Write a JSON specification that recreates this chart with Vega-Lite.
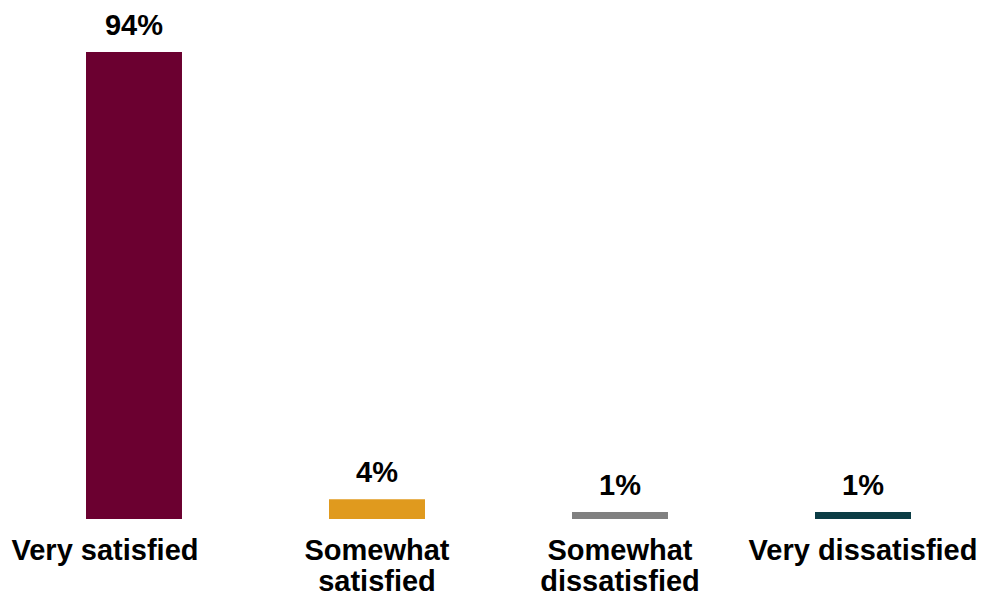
{
  "$schema": "https://vega.github.io/schema/vega-lite/v6.json",
  "width": 972,
  "height": 467,
  "autosize": {"type": "none"},
  "padding": {"left": 12.5, "top": 52, "right": 0, "bottom": 77},
  "background": "white",
  "config": {"view": {"stroke": null}},
  "data": {
    "values": [
      {"category": "Very satisfied", "value": 94, "label": "94%"},
      {"category": "Somewhat satisfied", "value": 4, "label": "4%"},
      {"category": "Somewhat dissatisfied", "value": 1.4, "label": "1%"},
      {"category": "Very dissatisfied", "value": 1.4, "label": "1%"}
    ]
  },
  "encoding": {
    "x": {
      "field": "category",
      "type": "nominal",
      "sort": null,
      "scale": {"paddingInner": 0.605, "paddingOuter": 0.3025},
      "axis": {
        "title": null,
        "labelAngle": 0,
        "ticks": false,
        "tickSize": 0,
        "domain": false,
        "labelPadding": 17,
        "labelFont": "Liberation Sans",
        "labelFontSize": 29,
        "labelFontWeight": "bold",
        "labelColor": "black",
        "labelBaseline": "top",
        "labelLineHeight": 31,
        "labelLimit": 400,
        "labelOverlap": false,
        "labelOffset": {"condition": {"test": "datum.value == 'Very satisfied'", "value": -29}, "value": 0},
        "labelExpr": "datum.value == 'Somewhat satisfied' ? ['Somewhat', 'satisfied'] : datum.value == 'Somewhat dissatisfied' ? ['Somewhat', 'dissatisfied'] : datum.label"
      }
    },
    "y": {
      "field": "value",
      "type": "quantitative",
      "scale": {"domain": [0, 94], "nice": false, "zero": true},
      "axis": null
    }
  },
  "layer": [
    {
      "mark": {"type": "bar"},
      "encoding": {
        "color": {
          "field": "category",
          "type": "nominal",
          "scale": {
            "domain": ["Very satisfied", "Somewhat satisfied", "Somewhat dissatisfied", "Very dissatisfied"],
            "range": ["#6B0030", "#E09A1E", "#808080", "#0B3C45"]
          },
          "legend": null
        }
      }
    },
    {
      "mark": {
        "type": "text",
        "baseline": "alphabetic",
        "dy": -17,
        "font": "Liberation Sans",
        "fontSize": 29,
        "fontWeight": "bold",
        "color": "black"
      },
      "encoding": {
        "text": {"field": "label"}
      }
    }
  ]
}
